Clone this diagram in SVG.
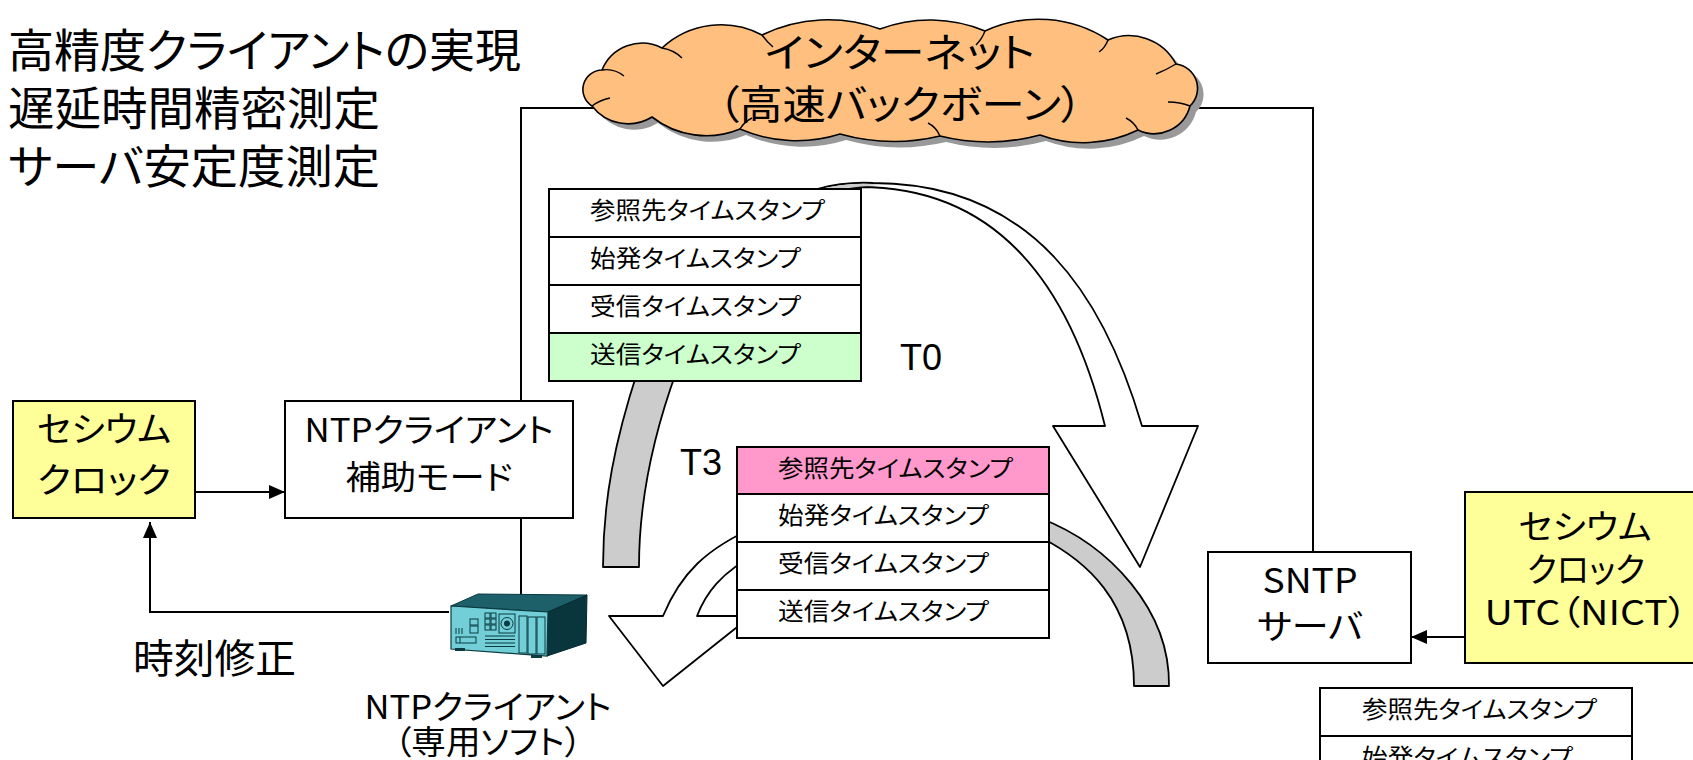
<svg xmlns="http://www.w3.org/2000/svg" width="1693" height="760" viewBox="0 0 1693 760">
  <defs>
    <style>
      .jp { font-family: "Noto Sans CJK JP", "Liberation Sans", sans-serif; fill: #000; font-feature-settings: "palt"; }
      .lat { font-family: "Liberation Sans", Arial, sans-serif; fill: #000; }
      .box { stroke: #000; stroke-width: 2; }
      .line { fill: none; stroke: #000; stroke-width: 2; }
      .cell { fill: #fff; stroke: #000; stroke-width: 2; }
      .band { stroke: #000; stroke-width: 1.8; stroke-linejoin: round; }
      .cloud-edge { fill: none; stroke: #000; stroke-width: 1.4; }
      .row { font-size: 23.5px; }
    </style>
    <marker id="arrow" viewBox="0 0 16 14" refX="16" refY="7" markerWidth="16" markerHeight="14" orient="auto" markerUnits="userSpaceOnUse">
      <path d="M0,0 L16,7 L0,14 Z" fill="#000"/>
    </marker>
    <path id="cloud-shape" d="M592,106 A19.5,19.5 0 0 1 602,70 A43.5,43.5 0 0 1 662,48 A87,87 0 0 1 762,35 A151,151 0 0 1 880,29 A143,143 0 0 1 985,31 A127,127 0 0 1 1108,40 A53,53 0 0 1 1176,64 A24.5,24.5 0 0 1 1190,106 A37,37 0 0 1 1138,130 A125,125 0 0 1 1040,135 A200,200 0 0 1 940,136 A200,200 0 0 1 840,134 A143,143 0 0 1 740,129 A88,88 0 0 1 652,117 A45.5,45.5 0 0 1 592,106 Z"/>
  </defs>

  <rect width="1693" height="760" fill="#fff"/>

  <!-- heading -->
  <g id="heading" class="jp" font-size="46">
    <text x="8" y="67" textLength="513" lengthAdjust="spacingAndGlyphs">高精度クライアントの実現</text>
    <text x="8" y="125" textLength="372" lengthAdjust="spacingAndGlyphs">遅延時間精密測定</text>
    <text x="8" y="183" textLength="372" lengthAdjust="spacingAndGlyphs">サーバ安定度測定</text>
  </g>

  <!-- network links -->
  <g id="connectors">
    <polyline class="line" points="521,401 521,108 1313,108 1313,552"/>
    <line class="line" x1="521" y1="518" x2="521" y2="596"/>
    <line class="line" x1="195" y1="492" x2="285" y2="492" marker-end="url(#arrow)"/>
    <polyline class="line" points="449,612 150,612 150,522" marker-end="url(#arrow)"/>
    <line class="line" x1="1465" y1="637" x2="1411" y2="637" marker-end="url(#arrow)"/>
  </g>

  <!-- internet cloud -->
  <g id="internet">
    <use href="#cloud-shape" transform="translate(6,6)" fill="#999"/>
    <use href="#cloud-shape" fill="#FFC07F" stroke="#000" stroke-width="1.6"/>
    <path class="cloud-edge" d="M602,70 Q614,68 624,76 M662,48 Q674,50 682,58 M762,35 Q767,42 773,47 M985,31 Q982,39 976,45 M1108,40 Q1105,48 1099,52 M1176,64 Q1166,70 1156,74 M1190,106 Q1180,102 1168,102 M1138,130 Q1134,122 1126,118 M940,136 Q936,127 928,123 M740,129 Q744,122 752,118 M592,106 Q600,100 610,98"/>
    <text class="jp" x="900" y="67" font-size="40" text-anchor="middle" textLength="270" lengthAdjust="spacingAndGlyphs">インターネット</text>
    <text class="jp" x="900" y="119" font-size="40" text-anchor="middle" textLength="365" lengthAdjust="spacingAndGlyphs">（高速バックボーン）</text>
  </g>

  <!-- request packet path: client to server -->
  <g id="request-arrow">
    <path class="band" fill="#ccc" d="M603,567 C603,500 615,440 638,370 L677,370 C655,430 639,500 639,567 Z"/>
    <path class="band" fill="#fff" d="M1053,426 L1105,426 C1075,305 1010,187 860,187 Q838,188 817,192 L817,189 Q845,181.5 873,183 C1035,183 1105,300 1142,426 L1198,426 L1140,567 Z"/>
    <path fill="#ccc" d="M818,189.5 Q845,182.5 873,184 L880,185 Q858,186 838,189.5 L818,191.5 Z"/>
  </g>

  <!-- response packet path: server to client -->
  <g id="response-arrow">
    <path class="band" fill="#ccc" d="M1040,518 C1110,545 1170,610 1169,686 L1134,686 C1134,600 1085,560 1040,537 Z"/>
    <path class="band" fill="#fff" d="M609,616 L663,616 C680,575 705,548 760,525 L760,552 C720,572 705,595 697,616 L751,616 L663,686 Z"/>
  </g>

  <!-- outgoing packet -->
  <g id="packet-t0">
    <rect class="cell" x="549" y="189" width="312" height="48"/>
    <rect class="cell" x="549" y="237" width="312" height="48"/>
    <rect class="cell" x="549" y="285" width="312" height="48"/>
    <rect class="cell" x="549" y="333" width="312" height="48" style="fill:#CCFFCC"/>
    <g class="jp row">
      <text x="590" y="219" textLength="235" lengthAdjust="spacingAndGlyphs">参照先タイムスタンプ</text>
      <text x="590" y="267" textLength="211" lengthAdjust="spacingAndGlyphs">始発タイムスタンプ</text>
      <text x="590" y="315" textLength="211" lengthAdjust="spacingAndGlyphs">受信タイムスタンプ</text>
      <text x="590" y="363" textLength="211" lengthAdjust="spacingAndGlyphs">送信タイムスタンプ</text>
    </g>
    <text class="lat" x="900" y="370" font-size="36">T0</text>
  </g>

  <!-- returned packet -->
  <g id="packet-t3">
    <rect class="cell" x="737" y="447" width="312" height="47" style="fill:#FF99CC"/>
    <rect class="cell" x="737" y="494" width="312" height="48"/>
    <rect class="cell" x="737" y="542" width="312" height="48"/>
    <rect class="cell" x="737" y="590" width="312" height="48"/>
    <g class="jp row">
      <text x="778" y="477" textLength="235" lengthAdjust="spacingAndGlyphs">参照先タイムスタンプ</text>
      <text x="778" y="524" textLength="211" lengthAdjust="spacingAndGlyphs">始発タイムスタンプ</text>
      <text x="778" y="572" textLength="211" lengthAdjust="spacingAndGlyphs">受信タイムスタンプ</text>
      <text x="778" y="620" textLength="211" lengthAdjust="spacingAndGlyphs">送信タイムスタンプ</text>
    </g>
    <text class="lat" x="680" y="475" font-size="36">T3</text>
  </g>

  <!-- server side packet -->
  <g id="packet-server">
    <rect class="cell" x="1320" y="688" width="312" height="48"/>
    <rect class="cell" x="1320" y="736" width="312" height="48"/>
    <g class="jp row">
      <text x="1362" y="718" textLength="235" lengthAdjust="spacingAndGlyphs">参照先タイムスタンプ</text>
      <text x="1362" y="766" textLength="211" lengthAdjust="spacingAndGlyphs">始発タイムスタンプ</text>
    </g>
  </g>

  <!-- local cesium clock -->
  <g id="cesium-local">
    <rect class="box" x="13" y="401" width="182" height="117" fill="#FFFF99"/>
    <g class="jp" font-size="35" text-anchor="middle">
      <text x="104" y="442" textLength="134" lengthAdjust="spacingAndGlyphs">セシウム</text>
      <text x="104" y="493" textLength="134" lengthAdjust="spacingAndGlyphs">クロック</text>
    </g>
  </g>

  <!-- client assist mode -->
  <g id="ntp-assist">
    <rect class="box" x="285" y="401" width="288" height="117" fill="#fff"/>
    <g class="jp" font-size="33" text-anchor="middle">
      <text x="429" y="442" textLength="249" lengthAdjust="spacingAndGlyphs">NTPクライアント</text>
      <text x="429" y="489" textLength="167" lengthAdjust="spacingAndGlyphs">補助モード</text>
    </g>
  </g>

  <!-- correction label -->
  <g id="time-correction">
    <text class="jp" x="133" y="673" font-size="40" textLength="163" lengthAdjust="spacingAndGlyphs">時刻修正</text>
  </g>

  <!-- client machine -->
  <g id="ntp-client">
    <polygon points="451,606 478,594 587,595 548,612" fill="#1D6069" stroke="#0B3A40" stroke-width="1"/>
    <polygon points="548,612 587,595 586,643 547,656" fill="#08363C" stroke="#062B30" stroke-width="1"/>
    <polygon points="451,606 548,612 547,656 451,649" fill="#72CFD8" stroke="#0B3A40" stroke-width="1.2"/>
    <g fill="none" stroke="#0B3A40" stroke-width="1">
      <path d="M456,634 v-6 M459,634 v-6 M462,634 v-6"/>
      <rect x="470" y="619" width="8" height="6"/>
      <rect x="470" y="626" width="8" height="7"/>
      <rect x="456" y="637" width="20" height="6"/>
      <path d="M460,637 v6"/>
      <rect x="485" y="613" width="5" height="5"/>
      <rect x="491" y="613" width="5" height="5"/>
      <rect x="485" y="619" width="5" height="5"/>
      <rect x="491" y="619" width="5" height="5"/>
      <rect x="485" y="625" width="5" height="5"/>
      <rect x="491" y="625" width="5" height="5"/>
      <rect x="499" y="614" width="16" height="19"/>
      <circle cx="507" cy="623.5" r="6"/>
      <path d="M485,636 h30 M485,639.5 h30 M485,643 h30 M485,646.5 h30"/>
      <rect x="519" y="616" width="8" height="37"/>
      <rect x="528" y="617" width="8" height="37"/>
      <rect x="537" y="617" width="8" height="37"/>
    </g>
    <circle cx="507" cy="623.5" r="3" fill="#0B3A40"/>
    <rect x="455" y="648" width="10" height="3" fill="#0B3A40"/>
    <rect x="531" y="655" width="11" height="3" fill="#0B3A40"/>
    <g class="jp" font-size="33" text-anchor="middle">
      <text x="488" y="719" textLength="247" lengthAdjust="spacingAndGlyphs">NTPクライアント</text>
      <text x="488" y="754" textLength="188" lengthAdjust="spacingAndGlyphs">（専用ソフト）</text>
    </g>
  </g>

  <!-- time server -->
  <g id="sntp-server">
    <rect class="box" x="1208" y="552" width="203" height="111" fill="#fff"/>
    <g class="jp" font-size="34" text-anchor="middle">
      <text x="1310" y="593" textLength="95" lengthAdjust="spacingAndGlyphs">SNTP</text>
      <text x="1310" y="639" textLength="106" lengthAdjust="spacingAndGlyphs">サーバ</text>
    </g>
  </g>

  <!-- reference cesium clock -->
  <g id="cesium-utc">
    <rect class="box" x="1465" y="492" width="240" height="171" fill="#FFFF99"/>
    <g class="jp" font-size="34" text-anchor="middle">
      <text x="1585" y="539" textLength="133" lengthAdjust="spacingAndGlyphs">セシウム</text>
      <text x="1586" y="582" textLength="118" lengthAdjust="spacingAndGlyphs">クロック</text>
      <text x="1586" y="625" textLength="203" lengthAdjust="spacingAndGlyphs">UTC（NICT）</text>
    </g>
  </g>
</svg>
